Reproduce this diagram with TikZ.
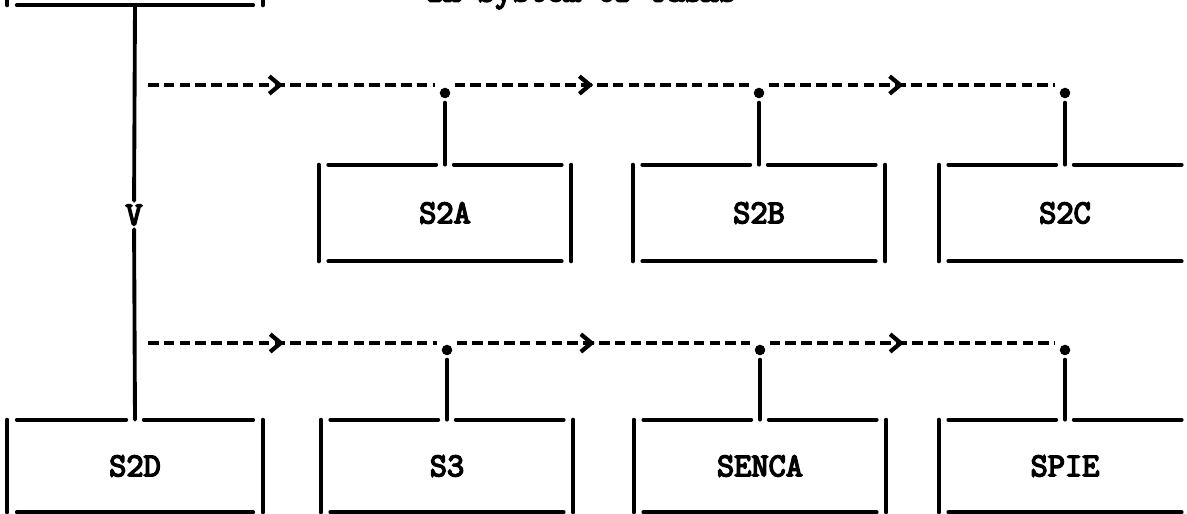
\documentclass[tikz,border=0pt]{standalone}
\usepackage{fontspec}
\newfontfamily\boxfont{Latin Modern Mono}[FakeBold=4.5]
\usetikzlibrary{positioning, calc, arrows.meta, decorations.markings}

\tikzset{
  boxline/.style={line width=2.2pt, line cap=round},
  boxtext/.style={font=\boxfont\fontsize{19}{21}\selectfont},
  sysbox/.style={boxtext, minimum width=5.04cm, minimum height=1.92cm, inner sep=0pt},
  lowbox/.style={sysbox, minimum height=1.84cm},
  junction/.style={circle, fill, inner sep=0pt, minimum size=6pt, outer sep=2.5pt},
  flow/.style={line width=2.7pt, dash pattern=on 6pt off 3pt, postaction={decorate},
    decoration={markings, mark=at position 0.47 with
      {\arrow[line width=2.4pt]{Straight Barb[length=6pt,width=10pt]}}}}
}

\begin{document}
\begin{tikzpicture}[x=0.02cm, y=-0.02cm]
    % Page frame in pixel units
    \useasboundingbox (0,0) rectangle (1187,514);

    % Title, cut by the top of the page
    \node[boxtext, anchor=base west] (title) at (420,1.5) {In System of Tasks};

    % Boxes
    \node[sysbox, minimum width=5.1cm, minimum height=2cm] (s2) at (135,-45) {};
    \node[sysbox] (s2a) at (445,213) {S2A};
    \node[sysbox] (s2b) at (759,213) {S2B};
    \node[sysbox] (s2c) at (1065,213) {S2C};
    \node[lowbox, minimum width=5.1cm] (s2d) at (135,466) {S2D};
    \node[lowbox] (s3) at (447,466) {S3};
    \node[lowbox] (senca) at (760,466) {SENCA};
    \node[lowbox] (spie) at (1065,466) {SPIE};

    % Box edges, open at the corners
    \foreach \b in {s2,s2a,s2b,s2c,s2d,s3,senca,spie} {
        \draw[boxline] ([xshift=5.5pt]\b.north west) -- ([xshift=-5pt]\b.north);
        \draw[boxline] ([xshift=5pt]\b.north) -- ([xshift=-5.5pt]\b.north east);
        \draw[boxline] ([xshift=5.5pt]\b.south west) -- ([xshift=-5.5pt]\b.south east);
        \draw[boxline] (\b.north west) -- (\b.south west);
        \draw[boxline] (\b.north east) -- (\b.south east);
    }

    % Main line down to S2D
    \node[boxtext, inner sep=2pt] (vmark) at (134,215) {V};
    \draw[boxline] (s2.south) -- (vmark);
    \draw[boxline] (vmark) -- (s2d.north);

    % Junctions on the two rows
    \coordinate (r1) at (148,85);
    \coordinate (r2) at (148,343);
    \node[junction] (d1a) at (s2a |- 0,93) {};
    \node[junction] (d1b) at (s2b |- 0,93) {};
    \node[junction] (d1c) at (s2c |- 0,93) {};
    \node[junction] (d2a) at (s3 |- 0,350) {};
    \node[junction] (d2b) at (senca |- 0,350) {};
    \node[junction] (d2c) at (spie |- 0,350) {};

    % Dashed flows
    \draw[flow] (r1) -- (d1a.west |- r1);
    \draw[flow] (d1a.east |- r1) -- (d1b.west |- r1);
    \draw[flow] (d1b.east |- r1) -- (d1c.west |- r1);
    \draw[flow] (r2) -- (d2a.west |- r2);
    \draw[flow] (d2a.east |- r2) -- (d2b.west |- r2);
    \draw[flow] (d2b.east |- r2) -- (d2c.west |- r2);

    % Drops into the boxes
    \draw[boxline] (d1a) -- (s2a.north);
    \draw[boxline] (d1b) -- (s2b.north);
    \draw[boxline] (d1c) -- (s2c.north);
    \draw[boxline] (d2a) -- (s3.north);
    \draw[boxline] (d2b) -- (senca.north);
    \draw[boxline] (d2c) -- (spie.north);
\end{tikzpicture}
\end{document}
